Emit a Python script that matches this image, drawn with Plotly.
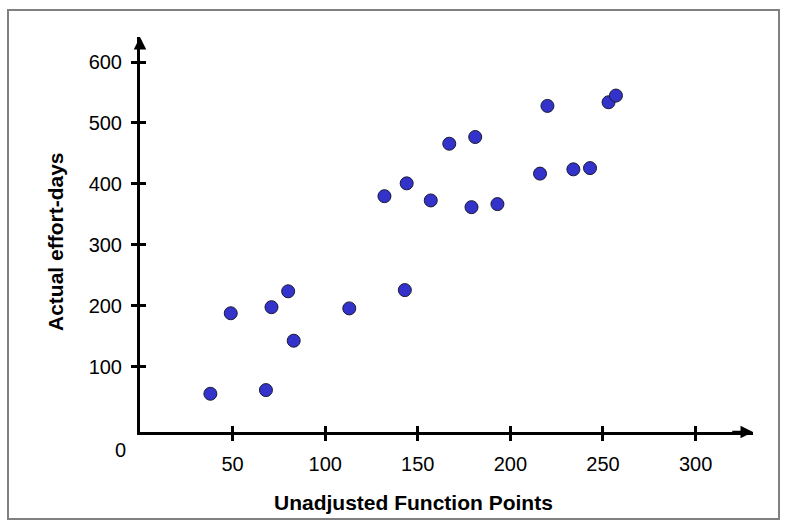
import plotly.graph_objects as go

# Data
ufp = [38, 68, 49, 71, 80, 83, 113, 143, 132, 144, 157, 167, 181, 179, 193, 216, 220, 234, 243, 253, 257]
effort = [56, 62, 188, 198, 224, 143, 196, 226, 380, 401, 373, 466, 477, 362, 367, 417, 528, 424, 426, 534, 545]

x_ticks = [50, 100, 150, 200, 250, 300]
y_ticks = [100, 200, 300, 400, 500, 600]

X_MAX = 331
Y_MIN, Y_MAX = -6.7, 641

W, H = 787, 528
ML, MR, MT, MB = 140, 34, 37, 96
PW, PH = W - ML - MR, H - MT - MB

FONT = "Liberation Sans, Arial, sans-serif"

fig = go.Figure()
fig.add_trace(go.Scatter(
    x=ufp, y=effort, mode="markers",
    marker=dict(size=13, color="#3333CC", line=dict(color="#1a1a33", width=1)),
    showlegend=False, hoverinfo="x+y"))
# helper trace for the overlay axes (inner half of crossing ticks)
fig.add_trace(go.Scatter(x=[None], y=[None], xaxis="x2", yaxis="y2", showlegend=False))

axis_common = dict(showgrid=False, zeroline=False, ticklen=6, tickwidth=2.5, tickcolor="black",
                   tickfont=dict(family=FONT, size=20, color="black"))

fig.update_layout(
    width=W, height=H,
    margin=dict(l=ML, r=MR, t=MT, b=MB),
    paper_bgcolor="white", plot_bgcolor="white",
    xaxis=dict(range=[0, X_MAX], tickvals=x_ticks, ticks="outside", showline=True,
               linecolor="black", linewidth=3, ticklabelstandoff=6, **axis_common),
    yaxis=dict(range=[Y_MIN, Y_MAX], tickvals=y_ticks, ticks="outside", showline=True,
               linecolor="black", linewidth=3, ticklabelstandoff=5, **axis_common),
    xaxis2=dict(range=[0, X_MAX], tickvals=x_ticks, ticks="inside", overlaying="x", anchor="y",
                showticklabels=False, showline=False, **axis_common),
    yaxis2=dict(range=[Y_MIN, Y_MAX], tickvals=y_ticks, ticks="inside", overlaying="y", anchor="x",
                side="left", showticklabels=False, showline=False, **axis_common),
)

def px_to_paper_x(px):
    return (px - ML) / PW

def px_to_paper_y(py):
    return (H - MB - py) / PH

annotations = [
    # arrow tips of the axes
    dict(x=X_MAX, y=Y_MIN, ax=X_MAX - 12, ay=Y_MIN, xref="x", yref="y", axref="x", ayref="y",
         showarrow=True, arrowhead=2, arrowsize=1, arrowwidth=2.5, arrowcolor="black", text=""),
    dict(x=0, y=Y_MAX, ax=0, ay=Y_MAX - 20, xref="x", yref="y", axref="x", ayref="y",
         showarrow=True, arrowhead=2, arrowsize=1, arrowwidth=2.5, arrowcolor="black", text=""),
    # origin label
    dict(x=px_to_paper_x(120), y=px_to_paper_y(450), xref="paper", yref="paper", text="0",
         showarrow=False, font=dict(family=FONT, size=20, color="black"),
         xanchor="center", yanchor="middle"),
    # axis titles
    dict(x=px_to_paper_x(413), y=px_to_paper_y(502), xref="paper", yref="paper",
         text="<b>Unadjusted Function Points</b>", showarrow=False,
         font=dict(family=FONT, size=21, color="black"), xanchor="center", yanchor="middle"),
    dict(x=px_to_paper_x(55), y=px_to_paper_y(242), xref="paper", yref="paper",
         text="<b>Actual effort-days</b>", showarrow=False, textangle=-90,
         font=dict(family=FONT, size=21, color="black"), xanchor="center", yanchor="middle"),
]
fig.update_layout(annotations=annotations)

# outer gray frame
fig.add_shape(type="rect", xref="paper", yref="paper",
              x0=px_to_paper_x(8), x1=px_to_paper_x(779),
              y0=px_to_paper_y(519), y1=px_to_paper_y(10),
              line=dict(color="#808080", width=2), fillcolor="rgba(0,0,0,0)", layer="below")

fig.write_html("out.html", config={"displayModeBar": False},
               post_script="document.body.style.margin='0';document.body.style.overflow='hidden';")
